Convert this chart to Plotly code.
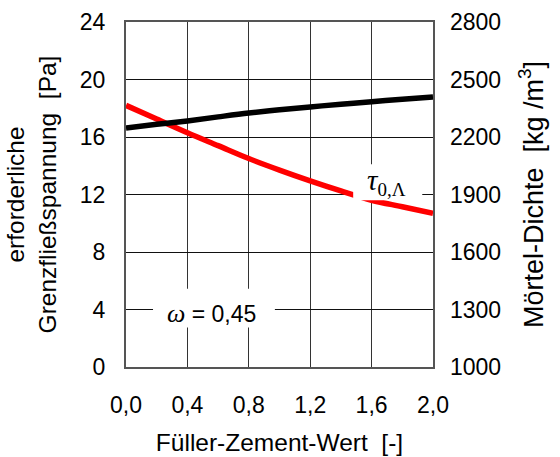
import plotly.graph_objects as go

fz = [0.0, 0.2, 0.4, 0.6, 0.8, 1.0, 1.2, 1.4, 1.6, 1.8, 2.0]
tau = [18.2, 17.25, 16.3, 15.4, 14.5, 13.7, 12.95, 12.25, 11.6, 11.15, 10.7]
dichte = [2247, 2266, 2284, 2305, 2325, 2342, 2357, 2371, 2384, 2397, 2409]

x_ticks = [0.0, 0.4, 0.8, 1.2, 1.6, 2.0]
x_ticktext = ["0,0", "0,4", "0,8", "1,2", "1,6", "2,0"]
y_ticks = [0, 4, 8, 12, 16, 20, 24]
y2_ticks = [1000, 1300, 1600, 1900, 2200, 2500, 2800]

font = "Liberation Sans, Arial, sans-serif"
FS = 23
TS = 24.5

fig = go.Figure()
fig.add_trace(go.Scatter(x=fz, y=tau, mode="lines", line=dict(color="#ff0000", width=5.5),
                         line_shape="spline", showlegend=False))
fig.add_trace(go.Scatter(x=fz, y=dichte, mode="lines", line=dict(color="#000000", width=5.5),
                         line_shape="spline", yaxis="y2", showlegend=False))

# white label boxes
fig.add_shape(type="rect", xref="x", yref="y", x0=1.48, x1=1.93, y0=11.6, y1=14.1,
              fillcolor="white", line=dict(width=0), layer="above")
fig.add_shape(type="rect", xref="x", yref="y", x0=0.176, x1=0.97, y0=2.75, y1=5.45,
              fillcolor="white", line=dict(width=0), layer="above")

fig.add_annotation(x=1.7, y=12.9, xref="x", yref="y",
                   text="<i>τ</i><sub><span style='font-size:19px'>0,Λ</span></sub>",
                   showarrow=False, font=dict(family="Liberation Serif, serif", size=29, color="black"))
fig.add_annotation(x=0.56, y=3.75, xref="x", yref="y",
                   text="<span style='font-family:Liberation Serif, serif;font-size:26px'><i>ω</i></span> = 0,45",
                   showarrow=False, font=dict(family=font, size=FS, color="black"))

fig.update_layout(
    width=560, height=457,
    margin=dict(l=126, r=127, t=22, b=90),
    paper_bgcolor="white", plot_bgcolor="white",
    font=dict(family=font, size=FS, color="black"),
    xaxis=dict(range=[0, 2.0], tickvals=x_ticks, ticktext=x_ticktext,
               showgrid=True, gridcolor="#333", gridwidth=1,
               showline=True, linecolor="#555", linewidth=2, mirror=True,
               ticks="", zeroline=False, ticklabelstandoff=16, automargin=False,
               title=dict(text="Füller-Zement-Wert  [-]", standoff=17,
                          font=dict(family=font, size=TS, color="black"))),
    yaxis=dict(range=[0, 24], tickvals=y_ticks,
               showgrid=True, gridcolor="#111", gridwidth=1,
               showline=True, linecolor="#555", linewidth=2, mirror=True,
               ticks="", zeroline=False, ticklabelstandoff=14, automargin=False,
               title=dict(text="erforderliche<br>Grenzfließspannung  [Pa]", standoff=16,
                          font=dict(family=font, size=TS, color="black"))),
    yaxis2=dict(range=[1000, 2800], tickvals=y2_ticks, overlaying="y", side="right",
                showgrid=False, zeroline=False, ticks="", ticklabelstandoff=16, automargin=False,
                title=dict(text="Mörtel-Dichte  [kg /m<sup>3</sup>]", standoff=23,
                           font=dict(family=font, size=27, color="black"))),
)

fig.write_html("out.html")
